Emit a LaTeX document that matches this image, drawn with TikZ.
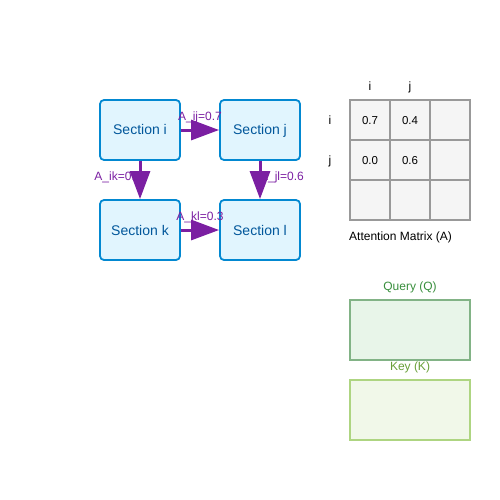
\documentclass[tikz,border=0pt]{standalone}
\usepackage{fontspec}
\setmainfont{Liberation Sans}
\usetikzlibrary{arrows.meta}
\definecolor{secfill}{HTML}{E1F5FE}
\definecolor{secdraw}{HTML}{0288D1}
\definecolor{sectext}{HTML}{01579B}
\definecolor{arr}{HTML}{7B1FA2}
\definecolor{cellfill}{HTML}{F5F5F5}
\definecolor{celldraw}{HTML}{999999}
\definecolor{qfill}{HTML}{E8F5E9}
\definecolor{qdraw}{HTML}{82B386}
\definecolor{qtext}{HTML}{388E3C}
\definecolor{kfill}{HTML}{F1F8E9}
\definecolor{kdraw}{HTML}{AED581}
\definecolor{ktext}{HTML}{689F38}
\tikzset{
  secbox/.style={draw=secdraw, fill=secfill, line width=1.8pt, rounded corners=4pt,
    minimum width=80pt, minimum height=60pt, inner sep=0pt, text=sectext,
    text height=10pt, text depth=0pt,
    font=\fontsize{14}{16}\selectfont},
  attn/.style={draw=arr, line width=3pt, -{Triangle[length=28pt,width=20pt]}},
  elabel/.style={text=arr, font=\fontsize{12}{14}\selectfont, inner sep=0pt,
    text height=8.6pt, text depth=0pt},
  cell/.style={draw=celldraw, fill=cellfill, line width=1.3pt, minimum size=40pt,
    inner sep=0pt, text height=8.3pt, text depth=0pt, font=\fontsize{11.5}{13}\selectfont},
  small/.style={font=\fontsize{12}{14}\selectfont, inner sep=0pt,
    text height=8.6pt, text depth=0pt},
  vecbox/.style={line width=1.3pt, minimum width=120pt, minimum height=60pt, inner sep=0pt}
}
\begin{document}
\begin{tikzpicture}[x=1pt,y=-1pt]
\useasboundingbox (0,0) rectangle (500,500);
% sections
\node[secbox] (si) at (140,130) {Section i};
\node[secbox] (sj) at (260,130) {Section j};
\node[secbox] (sk) at (140,230) {Section k};
\node[secbox] (sl) at (260,230) {Section l};
% edge labels (under arrows)
\node[elabel] (lij) at (200,116) {A\_ij=0.7};
\node[elabel] (lik) at (118,176) {A\_ik=0.5};
\node[elabel] (ljl) at (282,176) {A\_jl=0.6};
\node[elabel] (lkl) at (200,216) {A\_kl=0.3};
% arrows
\draw[attn] (si.east) -- (sj.west);
\draw[attn] (si.south) -- (sk.north);
\draw[attn] (sj.south) -- (sl.north);
\draw[attn] (sk.east) -- (sl.west);
% matrix
\node[cell] (c11) at (370,120) {0.7};
\node[cell] (c12) at (410,120) {0.4};
\node[cell] (c13) at (450,120) {};
\node[cell] (c21) at (370,160) {0.0};
\node[cell] (c22) at (410,160) {0.6};
\node[cell] (c23) at (450,160) {};
\node[cell] (c31) at (370,200) {};
\node[cell] (c32) at (410,200) {};
\node[cell] (c33) at (450,200) {};
\node[small] (hci) at (370,86) {i};
\node[small] (hcj) at (410,86) {j};
\node[small] (hri) at (330,120) {i};
\node[small] (hrj) at (330,160) {j};
\node[small, anchor=west] (cap) at (349,236) {Attention Matrix (A)};
% Q and K
\node[vecbox, draw=qdraw, fill=qfill] (q) at (410,330) {};
\node[small, text=qtext] (ql) at (410,286) {Query (Q)};
\node[vecbox, draw=kdraw, fill=kfill] (k) at (410,410) {};
\node[small, text=ktext] (kl) at (410,366) {Key (K)};
\end{tikzpicture}
\end{document}
